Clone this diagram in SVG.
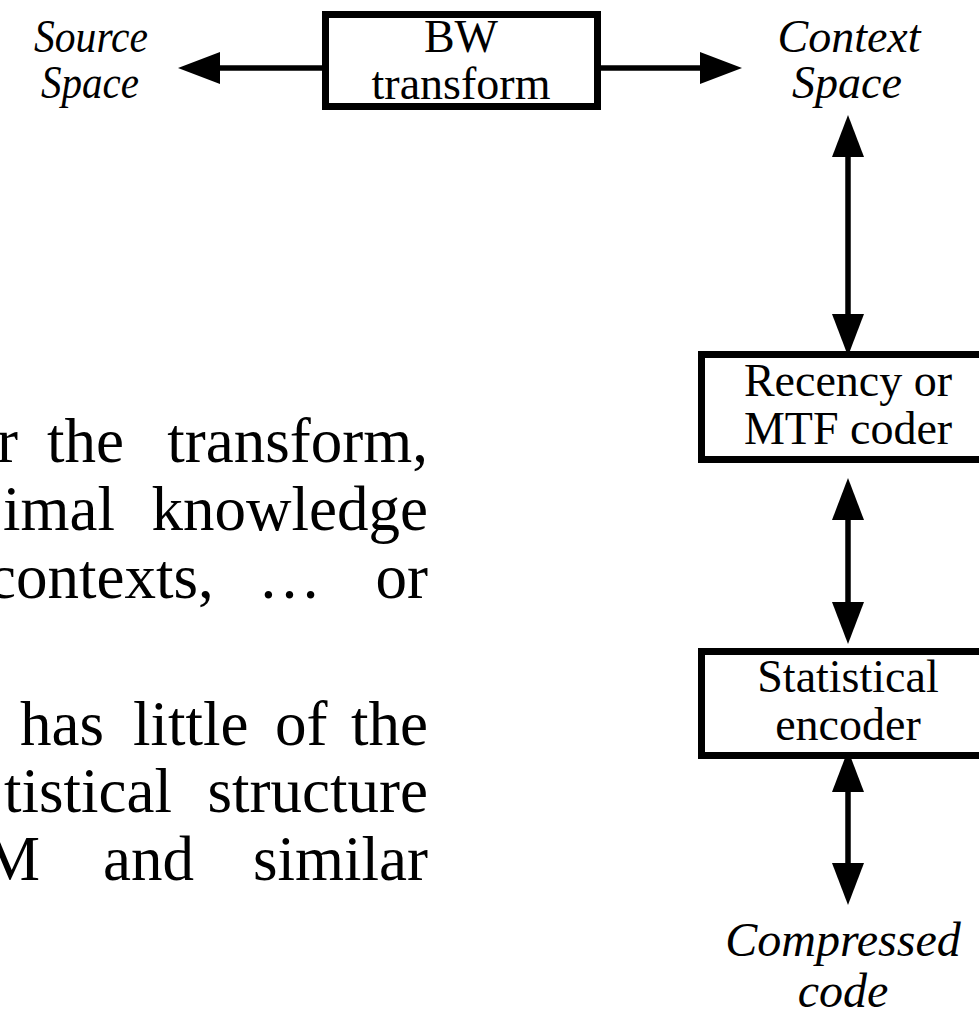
<svg xmlns="http://www.w3.org/2000/svg" width="979" height="1015" viewBox="0 0 979 1015">
  <style>
    .box { fill: #fff; stroke: #000; stroke-width: 7; }
    .lbl { font-family: "Liberation Serif", "Times New Roman", serif; font-size: 46px; fill: #000; text-anchor: middle; }
    .ital { font-family: "Liberation Serif", "Times New Roman", serif; font-size: 46px; font-style: italic; fill: #000; text-anchor: middle; }
    .body { font-family: "Liberation Serif", "Times New Roman", serif; font-size: 63px; fill: #000; }
    .end { text-anchor: end; }
    .wire { stroke: #000; stroke-width: 5.5; fill: none; marker-start: url(#head); marker-end: url(#head); }
    .wire1 { stroke: #000; stroke-width: 5.5; fill: none; marker-end: url(#head); }
  </style>
  <defs>
    <marker id="head" markerUnits="userSpaceOnUse" markerWidth="42" markerHeight="32" refX="12" refY="16" orient="auto-start-reverse" overflow="visible">
      <path d="M0,0 L42,16 L0,32 Z" fill="#000"/>
    </marker>
  </defs>
  <rect width="979" height="1015" fill="#fff"/>

  <!-- body text, justified column cut at the left edge -->
  <g id="body-text" class="body">
    <text x="18" y="462" class="end">r</text>
    <text x="47" y="462">the</text>
    <text x="428" y="462" class="end">transform,</text>
    <text x="115" y="530" class="end">imal</text>
    <text x="428" y="530" class="end">knowledge</text>
    <text x="-12" y="598">contexts,</text>
    <text x="258" y="598">…</text>
    <text x="428" y="598" class="end">or</text>
    <text x="20" y="745">has</text>
    <text x="133" y="745">little</text>
    <text x="275" y="745">of</text>
    <text x="428" y="745" class="end">the</text>
    <text x="172" y="812" class="end">tistical</text>
    <text x="428" y="812" class="end">structure</text>
    <text x="40" y="880" class="end">M</text>
    <text x="103" y="880">and</text>
    <text x="428" y="880" class="end">similar</text>
  </g>

  <!-- connectors -->
  <g id="connectors">
    <line class="wire1" x1="322" y1="68" x2="208" y2="68"/>
    <line class="wire1" x1="601" y1="68" x2="712" y2="68"/>
    <line class="wire" x1="848" y1="145" x2="848" y2="326"/>
    <line class="wire" x1="848" y1="508" x2="848" y2="614"/>
    <line class="wire" x1="848" y1="780" x2="848" y2="875"/>
  </g>

  <g id="source-space">
    <text class="ital" x="91" y="52" textLength="114" lengthAdjust="spacingAndGlyphs">Source</text>
    <text class="ital" x="90" y="98" textLength="98" lengthAdjust="spacingAndGlyphs">Space</text>
  </g>

  <g id="bw-transform">
    <rect class="box" x="325.5" y="14.5" width="272" height="92"/>
    <text class="lbl" x="461" y="52">BW</text>
    <text class="lbl" x="461" y="99">transform</text>
  </g>

  <g id="context-space">
    <text class="ital" x="849" y="52">Context</text>
    <text class="ital" x="847" y="98">Space</text>
  </g>

  <g id="mtf-coder">
    <rect class="box" x="701.5" y="354.5" width="320" height="105"/>
    <text class="lbl" x="848" y="396">Recency or</text>
    <text class="lbl" x="848" y="444">MTF coder</text>
  </g>

  <g id="statistical-encoder">
    <rect class="box" x="701.5" y="651.5" width="320" height="104"/>
    <text class="lbl" x="848" y="692">Statistical</text>
    <text class="lbl" x="848" y="740">encoder</text>
  </g>

  <g id="compressed-code">
    <text class="ital" x="843" y="956" style="font-size:48px">Compressed</text>
    <text class="ital" x="843" y="1007" style="font-size:48px">code</text>
  </g>
</svg>
